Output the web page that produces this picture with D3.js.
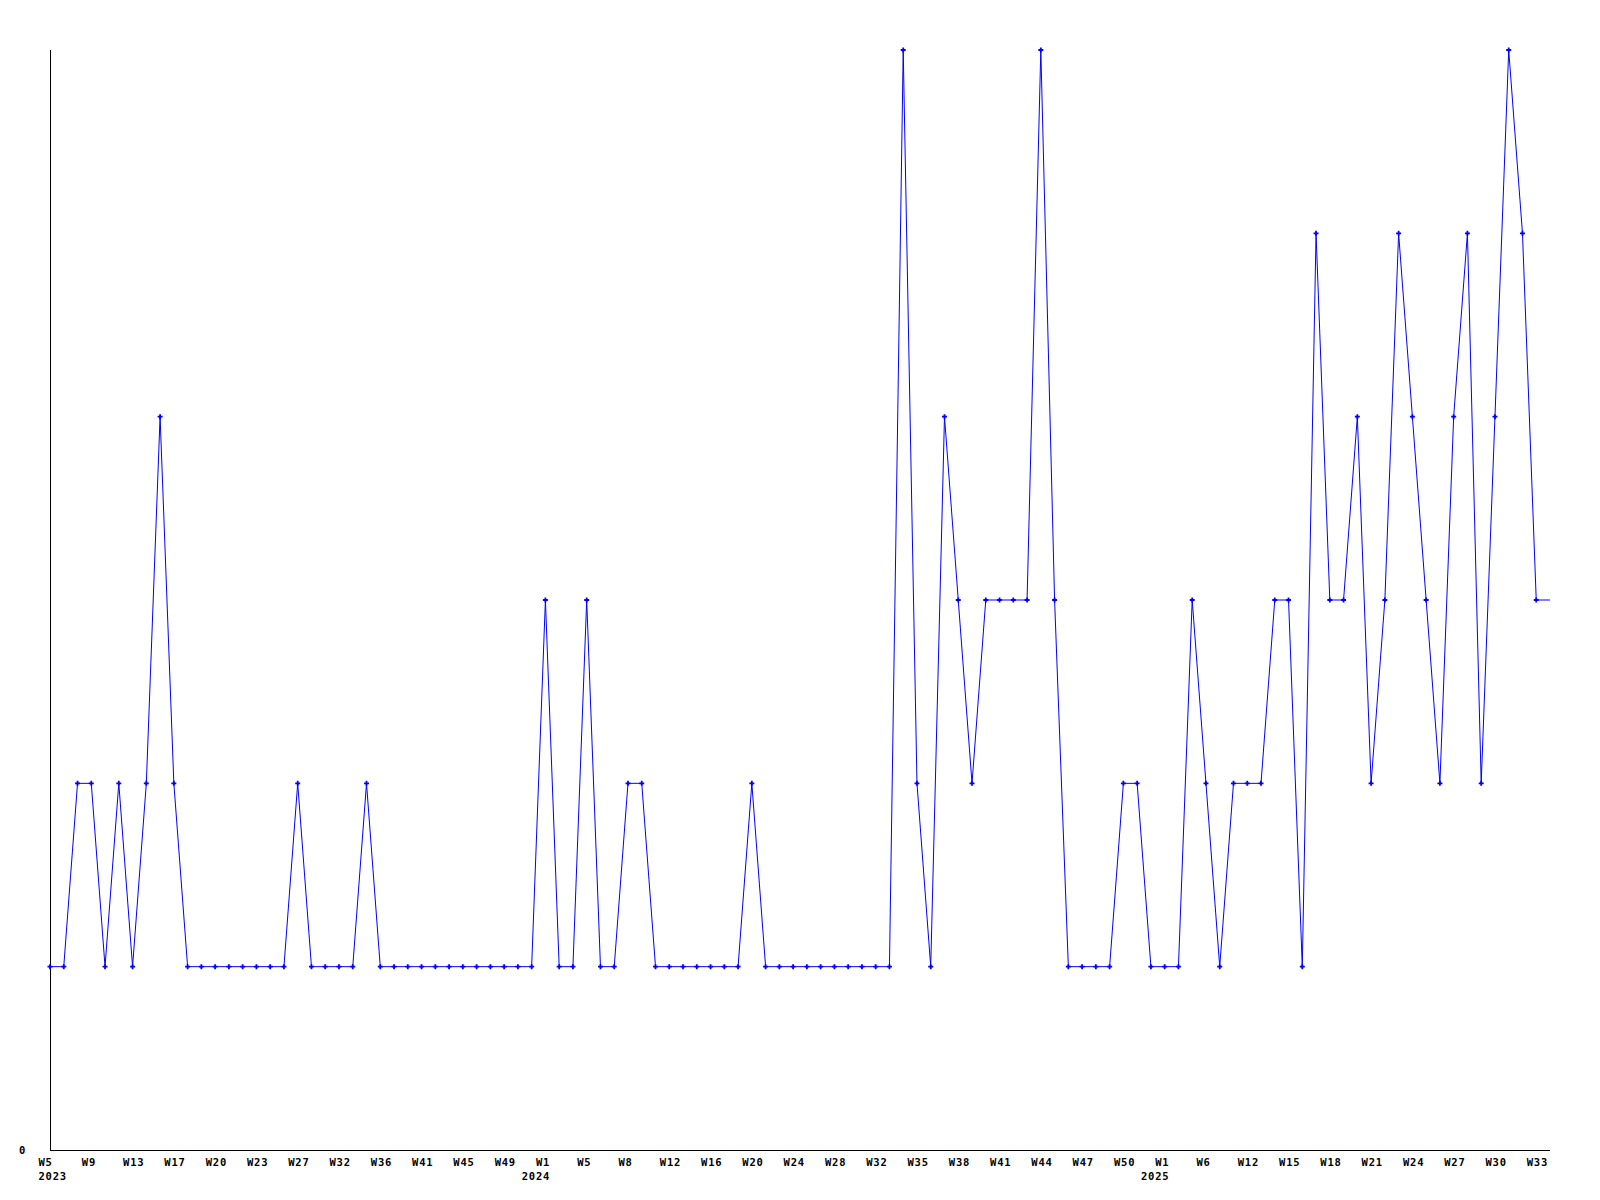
<!DOCTYPE html>
<html>
<head>
<meta charset="utf-8">
<script src="https://cdn.jsdelivr.net/npm/d3@7"></script>
<style>
  html, body { margin: 0; padding: 0; background: #fff; }
  svg { display: block; }
  text { font-family: "DejaVu Sans Mono", "Liberation Mono", monospace; font-weight: bold; font-size: 10.5px; letter-spacing: 0.8px; fill: #000; }
</style>
</head>
<body>
<svg id="chart" width="1600" height="1200"></svg>
<script>
// weekly series values, one per data point (category axis)
const values = [
  1,1,2,2,1,2,1,2,4,2,
  1,1,1,1,1,1,1,1,2,1,
  1,1,1,2,1,1,1,1,1,1,
  1,1,1,1,1,1,3,1,1,3,
  1,1,2,2,1,1,1,1,1,1,
  1,2,1,1,1,1,1,1,1,1,
  1,1,6,2,1,4,3,2,3,3,
  3,3,6,3,1,1,1,1,2,2,
  1,1,1,3,2,1,2,2,2,3,
  3,1,5,3,3,4,2,3,5,4,
  3,2,4,5,2,4,6,5,3,3
];
// tick labels: every third data point
const tickWeeks = ["W5","W9","W13","W17","W20","W23","W27","W32","W36","W41","W45","W49",
  "W1","W5","W8","W12","W16","W20","W24","W28","W32","W35","W38","W41","W44","W47","W50",
  "W1","W6","W12","W15","W18","W21","W24","W27","W30","W33"];
const tickYears = ["2023","","","","","","","","","","","",
  "2024","","","","","","","","","","","","","","",
  "2025","","","","","","","","",""];
const tickStep = 3;
const yTickValues = [0];

const W = 1600, H = 1200;
const margin = {left: 50, right: 50, top: 50, bottom: 50};
const svg = d3.select("#chart");

const x = d3.scaleLinear().domain([0, values.length - 1]).range([margin.left, W - margin.right]);
const y = d3.scaleLinear().domain([0, d3.max(values)]).range([H - margin.bottom, margin.top]);

// axes lines
svg.append("line").attr("x1", margin.left).attr("x2", margin.left)
  .attr("y1", y(d3.max(values))).attr("y2", y(0))
  .attr("stroke", "#000").attr("stroke-width", 1).attr("shape-rendering", "crispEdges");
svg.append("line").attr("x1", margin.left).attr("x2", W - margin.right)
  .attr("y1", y(0)).attr("y2", y(0))
  .attr("stroke", "#000").attr("stroke-width", 1).attr("shape-rendering", "crispEdges");

// y axis label
const yAxis = d3.axisLeft(y).tickValues(yTickValues).tickSize(0).tickPadding(24).tickFormat(d3.format("d"));
const gy = svg.append("g").attr("transform", `translate(${margin.left},0)`).call(yAxis);
gy.select(".domain").remove();
gy.selectAll("text").attr("font-family", null).attr("font-size", null).attr("dy", "0.35em");

// x axis labels
const tickIdx = tickWeeks.map((_, i) => i * tickStep);
const xAxis = d3.axisBottom(x).tickValues(tickIdx).tickSize(0).tickPadding(0)
  .tickFormat((d, i) => tickWeeks[i]);
const gx = svg.append("g").attr("transform", `translate(0,${y(0)})`).call(xAxis);
gx.select(".domain").remove();
gx.selectAll(".tick text")
  .attr("font-family", null).attr("font-size", null)
  .attr("text-anchor", "start").attr("x", (d, i) => i === 0 ? -12 : -10).attr("y", 16).attr("dy", null);

gx.selectAll(".tick").each(function(d, i) {
  const yr = tickYears[i];
  if (!yr) return;
  const g = d3.select(this);
  const wk = g.select("text");
  const wkLen = wk.node().getComputedTextLength();
  const t = g.append("text").attr("y", 30).text(yr);
  if (i === 0) {
    t.attr("text-anchor", "start").attr("x", -12);
  } else {
    t.attr("text-anchor", "end").attr("x", -10 + wkLen);
  }
});

// line
const line = d3.line().x((d, i) => x(i)).y(d => y(d));
svg.append("path").datum(values)
  .attr("d", line).attr("fill", "none").attr("stroke", "#0000ff").attr("stroke-width", 1);

// markers (last point sits on the right edge, no marker)
svg.append("g").selectAll("path").data(values.slice(0, values.length - 1)).join("path")
  .attr("transform", (d, i) => `translate(${x(i)},${y(d)})`)
  .attr("d", "M-2.5,0H2.5M0,-2.5V2.5")
  .attr("stroke", "#0000ff").attr("stroke-width", 1.8).attr("fill", "none");
</script>
</body>
</html>
